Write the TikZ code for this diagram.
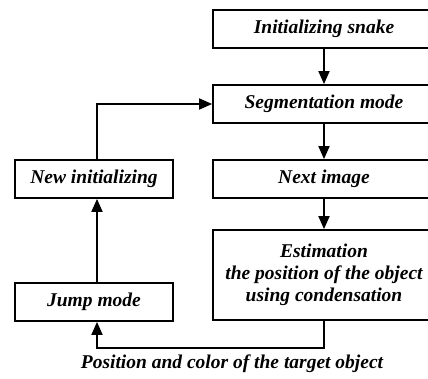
\documentclass[tikz,border=0pt]{standalone}
\usepackage{fontspec}
\setmainfont{Liberation Serif}
\usetikzlibrary{arrows.meta}
\begin{document}
\begin{tikzpicture}[x=1pt,y=-1pt,
  box/.style={draw, line width=1.8pt, inner sep=0pt, align=center,
    font=\fontsize{19.5}{22}\selectfont\bfseries\itshape},
  rbox/.style={box, minimum width=222pt},
  lbox/.style={box, minimum width=158pt},
  conn/.style={line width=1.8pt},
  arr/.style={conn, -{Triangle[length=13pt,width=11pt]}},
  lbl/.style={font=\fontsize{19.5}{22}\selectfont\bfseries\itshape, inner sep=0pt}]
\useasboundingbox (0,0) rectangle (428,379);
\node[rbox, minimum height=38pt] (snake) at (324,29) {Initializing snake};
\node[rbox, minimum height=38pt] (seg) at (324,104) {Segmentation mode};
\node[rbox, minimum height=38pt] (next) at (324,179) {Next image};
\node[rbox, minimum height=90pt] (est) at (324,275) {Estimation\\the position of the object\\using condensation};
\node[lbox, minimum height=38pt] (newi) at (94,179) {New initializing};
\node[lbox, minimum height=38pt] (jump) at (94,302) {Jump mode};
\coordinate (lx) at (97,0);
\coordinate (loopy) at (0,348);
\draw[arr] (snake) -- (seg);
\draw[arr] (seg) -- (next);
\draw[arr] (next) -- (est);
\draw[arr] (jump.north -| lx) -- (newi.south -| lx);
\draw[arr] (newi.north -| lx) |- (seg.west);
\draw[arr] (est.south) -- (est.south |- loopy) -| (jump.south -| lx);
\node[lbl] (pos) at (232,364) {Position and color of the target object};
\end{tikzpicture}
\end{document}
